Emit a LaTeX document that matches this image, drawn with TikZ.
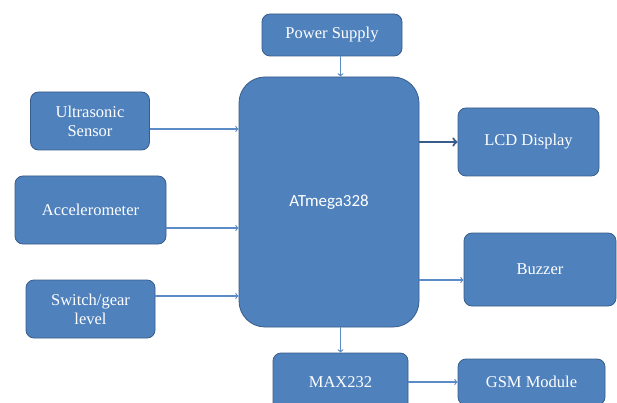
\documentclass[tikz,border=0pt]{standalone}
\usepackage{fontspec}
\setmainfont{Liberation Serif}
\newfontfamily\calibri{Carlito}
\usepackage{tikz}
\usetikzlibrary{arrows}
\definecolor{boxblue}{HTML}{4F81BD}
\definecolor{boxline}{HTML}{385D8A}
\definecolor{linkblue}{HTML}{5B8CC8}

\begin{document}
\begin{tikzpicture}[x=1pt,y=-1pt,
       block/.style={draw=boxline, line width=0.8pt, fill=boxblue, rounded corners=8pt,
                     text=white, align=center, font=\fontsize{16.5}{19}\selectfont, inner sep=0pt},
       link/.style={draw=linkblue, line width=1.2pt, ->, >=to}]
       \useasboundingbox (0,0) rectangle (617,403);

       \node[block, minimum width=140pt, minimum height=42pt] (power) at (332,35) {Power Supply};
       \node[block, minimum width=180pt, minimum height=250pt, rounded corners=26pt,
             font=\calibri\fontsize{17}{19}\selectfont] (mcu) at (329,202) {ATmega328};

       \node[block, minimum width=119pt, minimum height=58pt] (ultra) at (90,121) {Ultrasonic\\Sensor};
       \node[block, minimum width=151pt, minimum height=68pt] (accel) at (90.5,210) {Accelerometer};
       \node[block, minimum width=129pt, minimum height=58pt] (switch) at (90.5,309) {Switch/gear\\level};

       \node[block, minimum width=141pt, minimum height=68pt] (lcd) at (528.5,142) {LCD Display};
       \node[block, minimum width=152pt, minimum height=73pt] (buzzer) at (540,269.5) {Buzzer};

       \node[block, minimum width=135pt, minimum height=58pt] (max) at (340.5,382) {MAX232};
       \node[block, minimum width=147pt, minimum height=46pt] (gsm) at (531.5,382) {GSM Module};

       % inputs
       \draw[link] (power.south -| max) -- (mcu.north -| max);
       \draw[link] ([yshift=-8pt]ultra.east) -- ([yshift=-8pt]ultra.east -| mcu.west);
       \draw[link] ([yshift=-18pt]accel.east) -- ([yshift=-18pt]accel.east -| mcu.west);
       \draw[link] ([yshift=13pt]switch.east) -- ([yshift=13pt]switch.east -| mcu.west);

       % outputs
       \draw[link, line width=2.2pt, draw=boxline] (mcu.east |- lcd.west) -- (lcd.west);
       \draw[link] ([yshift=-10.5pt]buzzer.west -| mcu.east) -- ([yshift=-10.5pt]buzzer.west);
       \draw[link] (mcu.south -| max) -- (max.north);
       \draw[link] (max.east) -- (gsm.west);
\end{tikzpicture}
\end{document}
